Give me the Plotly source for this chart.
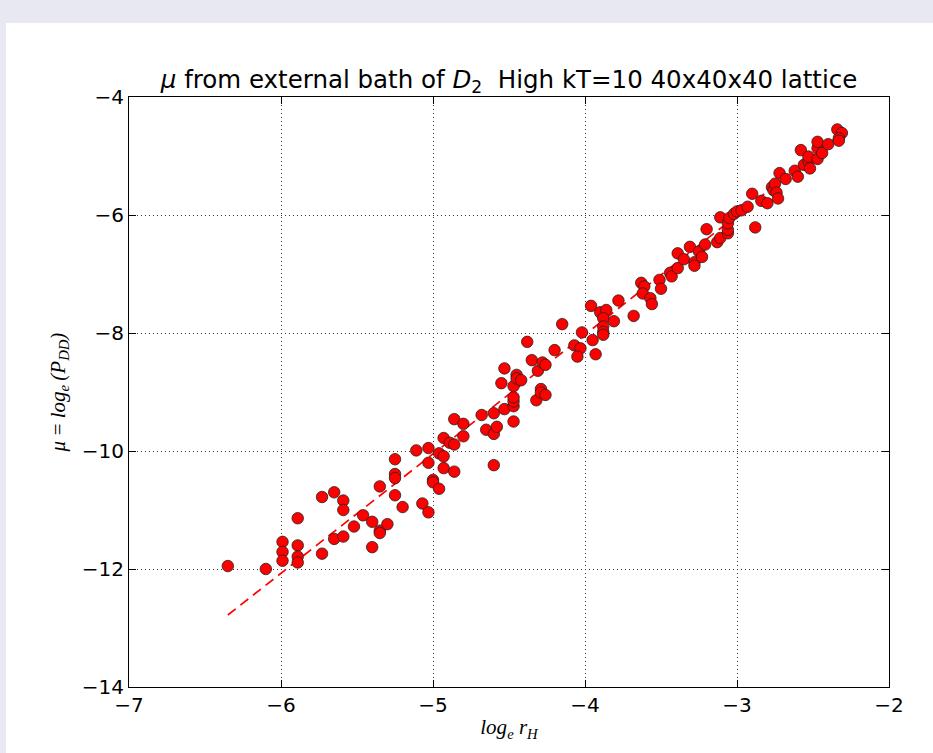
import plotly.graph_objects as go

# Data
log_rH = [-6.35, -6.10, -5.99, -5.99, -5.99, -5.89, -5.89, -5.89, -5.89, -5.73,
          -5.73, -5.65, -5.65, -5.59, -5.59, -5.59, -5.52, -5.46, -5.40, -5.40,
          -5.35, -5.35, -5.35, -5.30, -5.25, -5.25, -5.25, -5.25, -5.20, -5.11,
          -5.03, -5.03, -4.96, -4.93, -4.93, -4.89, -4.86, -4.86, -4.80, -4.80,
          -4.93, -4.86, -5.00, -5.00, -4.96, -5.07, -5.03, -4.68, -4.60, -4.65,
          -4.60, -4.58, -4.60, -4.53, -4.47, -4.47, -4.47, -4.47, -4.47, -4.55,
          -4.53, -4.45, -4.45, -4.42, -4.32, -4.29, -4.29, -4.26, -4.31, -4.35,
          -4.28, -4.26, -4.38, -4.20, -4.15, -4.07, -4.03, -4.05, -4.02, -3.95,
          -3.93, -3.96, -3.90, -3.86, -3.88, -3.88, -3.88, -3.88, -3.81, -3.78,
          -3.68, -3.63, -3.61, -3.62, -3.57, -3.56, -3.51, -3.50, -3.44, -3.43,
          -3.39, -3.39, -3.35, -3.31, -3.28, -3.28, -3.25, -3.23, -3.21, -3.20,
          -3.13, -3.11, -3.11, -3.06, -3.06, -3.06, -3.05, -3.02, -3.00, -2.97,
          -2.93, -2.90, -2.88, -2.84, -2.80, -2.77, -2.76, -2.75, -2.74, -2.73,
          -2.72, -2.68, -2.62, -2.60, -2.58, -2.56, -2.53, -2.53, -2.52, -2.47,
          -2.47, -2.47, -2.44, -2.40, -2.34, -2.31, -2.33, -2.33]
mu = [-11.95, -12.00, -11.54, -11.71, -11.86, -11.14, -11.60, -11.79, -11.89, -10.78,
      -11.74, -10.70, -11.49, -10.84, -11.00, -11.45, -11.28, -11.09, -11.20, -11.63,
      -10.60, -11.35, -11.39, -11.24, -10.14, -10.39, -10.46, -10.75, -10.95, -9.99,
      -9.95, -10.20, -10.04, -10.09, -9.78, -9.86, -9.89, -9.46, -9.54, -9.75,
      -10.29, -10.35, -10.49, -10.53, -10.64, -10.89, -11.04, -9.39, -9.36, -9.64,
      -9.71, -9.59, -10.24, -9.29, -9.50, -9.24, -9.16, -9.09, -8.90, -8.85,
      -8.60, -8.71, -8.77, -8.80, -9.14, -8.95, -9.01, -9.05, -8.64, -8.46,
      -8.50, -8.54, -8.15, -8.29, -7.85, -8.21, -8.26, -8.40, -7.99, -8.12,
      -8.36, -7.54, -7.65, -7.61, -7.75, -7.89, -7.98, -8.03, -7.80, -7.45,
      -7.71, -7.15, -7.21, -7.33, -7.41, -7.51, -7.10, -7.25, -6.98, -7.04,
      -6.90, -6.65, -6.75, -6.54, -6.80, -6.86, -6.62, -6.71, -6.50, -6.24,
      -6.46, -6.39, -6.04, -6.31, -6.25, -6.14, -6.05, -5.98, -5.94, -5.92,
      -5.86, -5.64, -6.21, -5.76, -5.80, -5.53, -5.58, -5.47, -5.62, -5.72,
      -5.29, -5.39, -5.25, -5.35, -4.90, -5.15, -5.08, -5.01, -5.21, -5.05,
      -4.87, -4.76, -4.95, -4.80, -4.55, -4.61, -4.70, -4.74]

fit_x = [-6.35, -2.31]
fit_y = [-12.78, -4.61]

x_ticks = [-7, -6, -5, -4, -3, -2]
y_ticks = [-14, -12, -10, -8, -6, -4]

W, H = 933, 753
L, R, T, B = 129, 44, 97, 66
pw, ph = W - L - R, H - T - B

fig = go.Figure()
fig.add_trace(go.Scatter(x=fit_x, y=fit_y, mode="lines",
                         line=dict(color="#ff0000", width=1.7, dash="10px,6px"),
                         showlegend=False, hoverinfo="skip"))
fig.add_trace(go.Scatter(x=log_rH, y=mu, mode="markers",
                         marker=dict(color="#ff0000", size=11.5,
                                     line=dict(color="#222222", width=0.8)),
                         showlegend=False))

# white canvas inside the lavender border
fig.add_shape(type="rect", xref="paper", yref="paper", layer="below",
              x0=(6 - L) / pw, x1=(W - L) / pw + 0.01,
              y0=-(B + 5) / ph, y1=(H - B - 23) / ph,
              fillcolor="white", line=dict(width=0))

axis_common = dict(showline=True, linecolor="black", linewidth=1, mirror="allticks",
                   ticks="inside", ticklen=7, tickcolor="black",
                   showgrid=True, gridcolor="#333333", griddash="1px,3px", gridwidth=1,
                   zeroline=False, tickfont=dict(family="DejaVu Sans", size=20, color="black"))

fig.update_xaxes(range=[-7, -2], tickvals=x_ticks, ticktext=[f"\u2212{abs(v)}" for v in x_ticks],
                 title=dict(text="<i>log<sub>e</sub> r<sub>H</sub></i>",
                            font=dict(family="Liberation Serif", size=21, color="black"),
                            standoff=3),
                 **axis_common)
fig.update_yaxes(range=[-14, -4], tickvals=y_ticks, ticktext=[f"\u2212{abs(v)}" for v in y_ticks],
                 title=dict(text="<i>\u03bc\u2009=\u2009log<sub>e</sub>\u2009(P<sub>DD</sub>)</i>",
                            font=dict(family="Liberation Serif", size=21, color="black"),
                            standoff=10),
                 **axis_common)

fig.update_layout(
    width=W, height=H,
    margin=dict(l=L, r=R, t=T, b=B, autoexpand=False),
    paper_bgcolor="#e8e8f2", plot_bgcolor="white",
    title=dict(text="<i>\u03bc</i> from external bath of <i>D</i><sub>2</sub>  High kT=10 40x40x40 lattice",
               x=(L + pw / 2) / W, xanchor="center", y=1 - 79 / H, yanchor="middle",
               font=dict(family="DejaVu Sans", size=24.5, color="black")),
)

fig.write_html("out.html", config={"displayModeBar": False},
               post_script="document.body.style.margin='0';document.body.style.background='#e8e8f2';")
